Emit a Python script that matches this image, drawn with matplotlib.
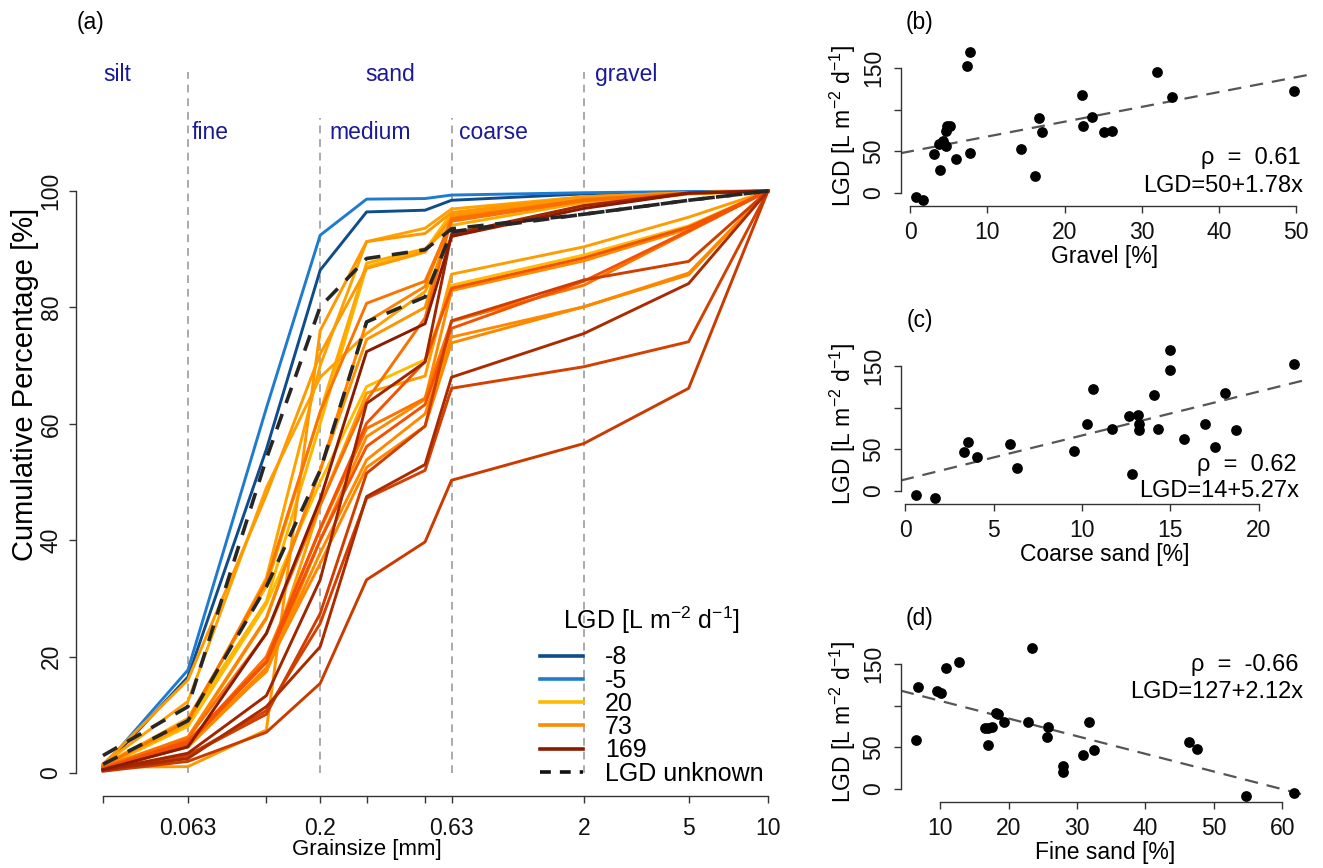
import numpy as np
import matplotlib
matplotlib.use("Agg")
import matplotlib.pyplot as plt
from matplotlib.lines import Line2D
from matplotlib.ticker import NullLocator

plt.rcParams['font.family'] = ['Liberation Sans', 'DejaVu Sans']
plt.rcParams['mathtext.fontset'] = 'custom'
plt.rcParams['mathtext.rm'] = 'Liberation Sans'
plt.rcParams['mathtext.it'] = 'Liberation Sans:italic'

# ---------------- data ----------------
grain_sizes = [0.03, 0.063, 0.125, 0.2, 0.3, 0.5, 0.63, 2, 5, 10]
size_labels = {0.063: '0.063', 0.2: '0.2', 0.63: '0.63', 2: '2', 5: '5', 10: '10'}

curve_lgd = [-8, -5, 20, 28, 41, 47, 48, 53, 57, 59, 62, 73, 73, 74, 75,
             80, 80, 81, 90, 91, 115, 118, 122, 145, 153, 169]
cum_pct = [
    [0.8, 16.5, 55.6, 86.4, 96.4, 96.7, 98.4, 99.5, 99.8, 100],
    [1.0, 17.7, 62.7, 92.4, 98.6, 98.7, 99.3, 99.7, 99.9, 100],
    [1.0, 8.0, 29.0, 50.0, 66.4, 71.0, 83.8, 89.0, 94.0, 100],
    [1.5, 9.0, 29.5, 60.0, 87.0, 89.8, 96.2, 98.8, 99.6, 100],
    [1.2, 9.4, 32.1, 62.0, 87.6, 90.1, 94.1, 98.0, 99.5, 100],
    [1.0, 8.5, 33.5, 70.0, 91.3, 93.6, 96.9, 99.0, 99.7, 100],
    [1.5, 12.3, 49.0, 68.0, 75.5, 82.7, 92.2, 97.5, 99.5, 100],
    [0.8, 5.0, 17.7, 46.0, 65.3, 68.2, 85.7, 90.4, 95.5, 100],
    [1.5, 16.0, 47.8, 72.0, 86.7, 89.5, 95.4, 98.5, 99.6, 100],
    [1.0, 1.1, 7.4, 76.0, 91.3, 92.7, 96.3, 99.0, 99.7, 100],
    [1.0, 6.0, 26.5, 52.0, 74.5, 80.0, 95.8, 98.5, 99.6, 100],
    [0.8, 5.5, 17.4, 40.0, 57.8, 64.2, 82.9, 88.0, 93.5, 100],
    [0.6, 4.5, 17.6, 37.8, 53.8, 61.7, 74.9, 80.1, 85.9, 100],
    [0.6, 4.5, 18.1, 36.0, 52.5, 59.6, 73.9, 80.1, 85.6, 100],
    [1.0, 6.2, 26.7, 52.0, 77.5, 83.6, 95.3, 98.5, 99.6, 100],
    [0.8, 5.0, 20.0, 41.8, 59.2, 64.4, 77.6, 83.8, 93.0, 100],
    [1.2, 9.0, 32.9, 62.0, 80.7, 84.5, 94.8, 98.3, 99.6, 100],
    [1.0, 6.0, 23.9, 46.0, 64.0, 78.2, 95.2, 98.5, 99.6, 100],
    [0.8, 5.5, 19.2, 42.0, 60.1, 70.7, 83.3, 88.5, 93.8, 100],
    [0.8, 5.0, 19.0, 40.0, 56.1, 63.3, 76.4, 84.5, 93.2, 100],
    [0.5, 3.0, 10.7, 25.7, 47.2, 52.0, 66.1, 69.8, 74.1, 100],
    [0.5, 3.0, 10.1, 27.4, 51.5, 59.6, 77.7, 84.7, 87.9, 100],
    [0.3, 2.0, 7.0, 15.4, 33.2, 39.7, 50.3, 56.6, 66.1, 100],
    [0.5, 2.5, 11.4, 21.7, 47.5, 53.0, 68.0, 75.5, 84.1, 100],
    [0.5, 3.4, 13.3, 33.2, 63.5, 70.6, 92.6, 97.5, 99.7, 100],
    [0.6, 4.5, 24.0, 47.0, 72.4, 77.2, 92.2, 97.0, 99.6, 100],
]
unknown_cum = [
    [3.0, 11.4, 54.0, 80.1, 88.4, 89.9, 93.5, 96.0, 98.4, 100],
    [1.5, 9.0, 32.0, 52.0, 77.5, 81.8, 93.0, 96.0, 98.4, 100],
]
legend_lgd = [-8, -5, 20, 73, 169]

lgd = [-8, -5, 20, 28, 41, 47, 48, 53, 57, 59, 62, 73, 73, 74, 75,
       80, 80, 81, 90, 91, 115, 118, 122, 145, 153, 169]
gravel = [1.65, 0.74, 16.2, 3.85, 5.9, 3.1, 7.8, 14.3, 4.6, 3.75, 4.2, 17.1, 25.1,
          26.1, 4.7, 22.4, 5.2, 4.8, 16.7, 23.6, 33.9, 22.3, 49.7, 32.0, 7.4, 7.8]
coarse_sand = [1.68, 0.6, 12.84, 6.33, 4.05, 3.3, 9.55, 17.54, 5.95, 3.55, 15.78, 18.68,
               13.2, 14.27, 11.68, 13.2, 10.26, 16.98, 12.63, 13.14, 14.06, 18.07,
               10.62, 14.99, 21.98, 14.99]
fine_sand = [54.77, 61.7, 28.0, 28.0, 30.9, 32.5, 47.5, 16.9, 46.3, 6.43, 25.54, 16.6,
             17.04, 17.5, 25.69, 19.24, 31.7, 22.85, 18.36, 18.2, 10.15, 9.56, 6.68,
             10.88, 12.79, 23.39]
fit_intercepts = [50, 14, 127]
fit_slopes = [1.78, 5.27, -2.12]
rho_texts = ['ρ  =  0.61', 'ρ  =  0.62', 'ρ  =  -0.66']
eq_texts = ['LGD=50+1.78x', 'LGD=14+5.27x', 'LGD=127+2.12x']

# ---------------- colours ----------------
node_vals = [-8, -5, 20, 73, 90, 169]
node_cols = ['#0F4C8C', '#1F7BD0', '#FFBB00', '#FF8A00', '#F55200', '#8B1A00']
node_rgb = np.array([matplotlib.colors.to_rgb(c) for c in node_cols])


def lgd_color(v):
    return tuple(np.interp(v, node_vals, node_rgb[:, k]) for k in range(3))


W, H = 1323, 868
fig = plt.figure(figsize=(W / 100, H / 100), dpi=100)


def px_axes(x0, y0, x1, y1):
    return fig.add_axes([x0 / W, 1 - y1 / H, (x1 - x0) / W, (y1 - y0) / H])


AX_COL = '#333333'
FS = 16.5


def style_axes(ax):
    for s in ['top', 'right']:
        ax.spines[s].set_visible(False)
    for s in ['left', 'bottom']:
        ax.spines[s].set_color(AX_COL)
        ax.spines[s].set_linewidth(1.0)
    ax.tick_params(direction='out', length=5, width=1.0, color=AX_COL,
                   labelsize=FS, labelcolor='#111111', pad=6)


# ---------------- panel (a) ----------------
axa = px_axes(76.4, 167.7, 794.6, 796.3)
for v, cp in zip(curve_lgd, cum_pct):
    axa.plot(grain_sizes, cp, color=lgd_color(v), lw=2.1)
for cp in unknown_cum:
    axa.plot(grain_sizes, cp, color='#262626', lw=2.6, ls=(0, (4.5, 3.2)))

axa.set_xscale('log')
lo, hi = np.log10(grain_sizes[0]), np.log10(grain_sizes[-1])
ext = 0.04 * (hi - lo)
axa.set_xlim(10 ** (lo - ext), 10 ** (hi + ext))
axa.set_ylim(-4, 104)
style_axes(axa)
axa.tick_params(axis='x', pad=10)
axa.tick_params(axis='y', pad=5)
axa.set_xticks(grain_sizes)
axa.set_xticklabels([size_labels.get(g, '') for g in grain_sizes])
axa.xaxis.set_minor_locator(NullLocator())
axa.set_yticks([0, 20, 40, 60, 80, 100])
for lab in axa.get_yticklabels():
    lab.set_rotation(90)
    lab.set_va('center')
axa.spines['left'].set_bounds(0, 100)
axa.spines['bottom'].set_bounds(grain_sizes[0], grain_sizes[-1])
axa.set_xlabel('Grainsize [mm]', fontsize=16)
axa.xaxis.set_label_coords(0.405, -0.068)
axa.set_ylabel('Cumulative Percentage [%]', fontsize=21)
axa.yaxis.set_label_coords(-0.052, 0.656)

# class boundaries
for b, top in [(0.063, 120.5), (0.2, 112.5), (0.63, 112.5), (2, 120.5)]:
    axa.plot([b, b], [0, top], color='#AAAAAA', lw=1.4, ls=(0, (4, 3)),
             clip_on=False, zorder=0)
TXT = '#1A1A99'
for t, x, y, ha in [('silt', 0.03, 120, 'left'), ('sand', 0.37, 120, 'center'),
                    ('gravel', 2.2, 120, 'left'), ('fine', 0.065, 110, 'left'),
                    ('medium', 0.217, 110, 'left'), ('coarse', 0.675, 110, 'left')]:
    axa.text(x, y, t, color=TXT, fontsize=FS, ha=ha, va='center', clip_on=False)

handles = [Line2D([0], [0], color=lgd_color(v), lw=2.6) for v in legend_lgd]
handles.append(Line2D([0], [0], color='#111111', lw=2.6, ls=(0, (3, 2.5))))
labels = [str(v) for v in legend_lgd] + ['LGD unknown']
leg = axa.legend(handles, labels, title='LGD [L m$^{-2}$ d$^{-1}$]',
                 loc='lower left', bbox_to_anchor=(0.645, 0.017), frameon=False,
                 fontsize=18, title_fontsize=18, handlelength=1.75,
                 handletextpad=0.85, labelspacing=-0.03, borderpad=0,
                 borderaxespad=0)
leg._legend_box.sep = 7
fig.text(90 / W, 1 - 22 / H, '(a)', fontsize=FS, ha='center', va='center')

# ---------------- panels (b)-(d) ----------------
panel_specs = [
    (gravel, 'Gravel [%]', [0, 10, 20, 30, 40, 50], (46.3, 205.6), '(b)',
     (0.98, 0.30), (0.985, 0.12)),
    (coarse_sand, 'Coarse sand [%]', [0, 5, 10, 15, 20], (344.3, 503.6), '(c)',
     (0.97, 0.245), (0.975, 0.08)),
    (fine_sand, 'Fine sand [%]', [10, 20, 30, 40, 50, 60], (642.3, 801.6), '(d)',
     (0.975, 0.86), (0.985, 0.685)),
]
ymin, ymax = min(lgd), max(lgd)
yext = 0.04 * (ymax - ymin)
for i, (xs, xlab, xt, (top, bot), plab, rpos, epos) in enumerate(panel_specs):
    ax = px_axes(900.8, top, 1309.0, bot)
    xmn, xmx = min(xs), max(xs)
    xe = 0.04 * (xmx - xmn)
    ax.set_xlim(xmn - xe, xmx + xe)
    ax.set_ylim(ymin - yext, ymax + yext)
    ax.axline((0, fit_intercepts[i]), slope=fit_slopes[i], color='#555555',
              lw=1.6, ls=(0, (6, 4)), zorder=1)
    ax.scatter(xs, lgd, s=60, color='black', zorder=3, linewidths=0)
    style_axes(ax)
    ax.set_xticks(xt)
    ax.set_yticks([0, 50, 100, 150])
    ax.set_yticklabels(['0', '50', '', '150'])
    for lab in ax.get_yticklabels():
        lab.set_rotation(90)
        lab.set_va('center')
    ax.spines['left'].set_bounds(0, 150)
    ax.spines['bottom'].set_bounds(xt[0], xt[-1])
    ax.set_xlabel(xlab, fontsize=FS)
    ax.xaxis.set_label_coords(0.5, -0.25)
    ax.set_ylabel('LGD [L m$^{-2}$ d$^{-1}$]', fontsize=FS)
    ax.yaxis.set_label_coords(-0.105, 0.5)
    ax.text(rpos[0], rpos[1], rho_texts[i], transform=ax.transAxes,
            ha='right', va='center', fontsize=17)
    ax.text(epos[0], epos[1], eq_texts[i], transform=ax.transAxes,
            ha='right', va='center', fontsize=17)
    fig.text(920 / W, 1 - (top - 24) / H, plab, fontsize=FS,
             ha='center', va='center')

fig.savefig('out.png', dpi=100)
